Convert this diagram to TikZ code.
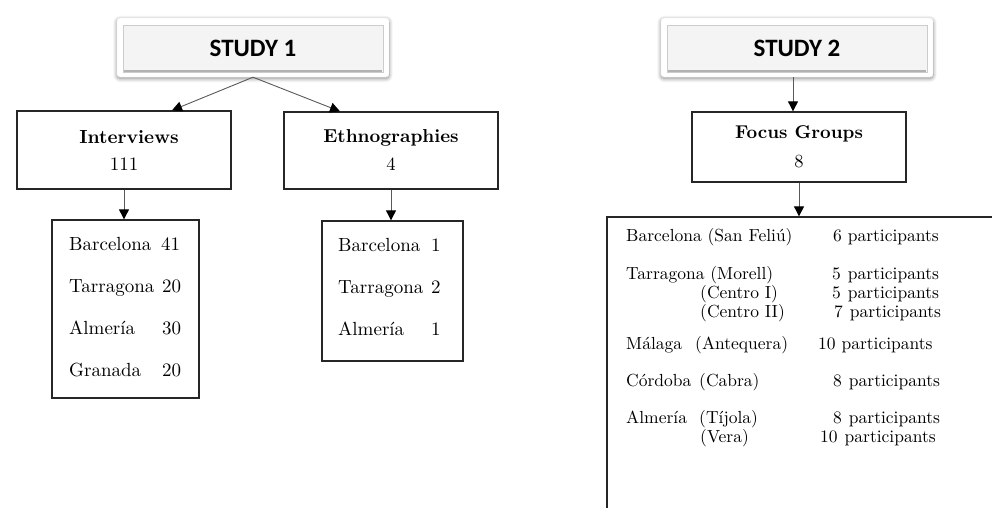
\documentclass[tikz,border=0pt]{standalone}
\usepackage{fontspec}
\setmainfont{lmroman10-regular.otf}[BoldFont=lmroman10-bold.otf]
\newfontfamily\studyfont{Carlito}
\usetikzlibrary{arrows.meta,shadows.blur,calc}
\begin{document}
\begin{tikzpicture}[x=1pt,y=-1pt,
  box/.style={draw=black!85,line width=1.3pt,fill=white,inner sep=0pt},
  arr/.style={draw=black!65,line width=0.9pt,-{Triangle[length=10pt,width=10pt,color=black]}},
  outerbox/.style={fill=white,draw=gray!15,line width=0.4pt,rounded corners=3pt,
    blur shadow={shadow blur steps=10,shadow xshift=0pt,shadow yshift=-1.5pt,shadow opacity=45,shadow blur radius=4pt},
    minimum width=272pt,minimum height=59pt,inner sep=0pt},
  innerbox/.style={fill=gray!9,draw=gray!40,line width=0.8pt,minimum width=260pt,minimum height=47pt,
    inner sep=0pt,font=\studyfont\bfseries\fontsize{25}{28}\selectfont},
  head/.style={align=center,font=\fontsize{19}{27}\selectfont},
  city/.style={anchor=base west,inner sep=0pt,font=\fontsize{19}{20}\selectfont},
  fg/.style={anchor=base west,inner sep=0pt,font=\fontsize{17.5}{20}\selectfont}
]
\useasboundingbox (0,0) rectangle (992,507);
\clip (0,0) rectangle (992,507);

% STUDY 1
\node[outerbox] (s1o) at (253,47.5) {};
\node[innerbox] (s1) at (253,48.5) {STUDY 1};
\draw[gray!60,line width=2pt] ($(s1.south west)+(1,-1)$) -- ($(s1.south east)+(-1,-1)$);

% STUDY 2
\node[outerbox] (s2o) at (797,47.5) {};
\node[innerbox] (s2) at (797,48.5) {STUDY 2};
\draw[gray!60,line width=2pt] ($(s2.south west)+(1,-1)$) -- ($(s2.south east)+(-1,-1)$);

% level 2 boxes
\node[box,minimum width=214pt,minimum height=78pt,head] (int) at (124,150)
  {\hspace*{10pt}\textbf{Interviews}\\111};
\node[box,minimum width=214pt,minimum height=77pt,head,font=\fontsize{18.7}{27}\selectfont] (eth) at (391,150.5)
  {\textbf{Ethnographies}\\[1pt]4};
\node[box,minimum width=214pt,minimum height=70pt,head,font=\fontsize{18.5}{27}\selectfont] (foc) at (799,147)
  {\textbf{Focus Groups}\\[2pt]8};

% city boxes
\node[box,minimum width=147pt,minimum height=178pt] (c1) at (125.5,309) {};
\node[box,minimum width=141pt,minimum height=140pt] (c2) at (392.5,291) {};
\node[box,minimum width=403pt,minimum height=303pt] (c3) at (808.5,368.5) {};

% arrows
\draw[arr] (s1o.south) -- ([xshift=48pt]int.north);
\draw[arr] (s1o.south) -- ([xshift=-51pt]eth.north);
\draw[arr] (int.south) -- (int.south |- c1.north);
\draw[arr] (eth.south) -- (eth.south |- c2.north);
\draw[arr] ([xshift=-4pt]s2o.south) -- ([xshift=-4pt]s2o.south |- foc.north);
\draw[arr] (foc.south) -- (foc.south |- c3.north);

% city list 1
\node[city] (a1) at (69,250) {Barcelona};  \node[city] (a1n) at (161,250) {41};
\node[city] (a2) at (69,292) {Tarragona};  \node[city] (a2n) at (162,292) {20};
\node[city] (a3) at (69,334) {Almería};    \node[city] (a3n) at (162,334) {30};
\node[city] (a4) at (69,376) {Granada};    \node[city] (a4n) at (162,376) {20};

% city list 2
\node[city] (b1) at (338,251) {Barcelona}; \node[city] (b1n) at (431,251) {1};
\node[city] (b2) at (338,293) {Tarragona}; \node[city] (b2n) at (431,293) {2};
\node[city] (b3) at (338,335) {Almería};   \node[city] (b3n) at (431,335) {1};

% focus group list
\node[fg] (f1) at (626,241) {Barcelona (San Feliú)};
\node[fg] (f1n) at (833,241) {6 participants};
\node[fg] (f2) at (626,279) {Tarragona (Morell)};
\node[fg] (f2n) at (832,279) {5\hspace{0.4em}participants};
\node[fg] (f3) at (700,298) {(Centro I)};
\node[fg] (f3n) at (832,298) {5\hspace{0.4em}participants};
\node[fg] (f4) at (700,317) {(Centro II)};
\node[fg] (f4n) at (834,317) {7\hspace{0.4em}participants};
\node[fg] (f5) at (626,349) {Málaga};
\node[fg] (f5b) at (695,349) {(Antequera)};
\node[fg] (f5n) at (818,349) {10 participants};
\node[fg] (f6) at (626,386) {Córdoba};
\node[fg] (f6b) at (699,386) {(Cabra)};
\node[fg] (f6n) at (833,386) {8\hspace{0.4em}participants};
\node[fg] (f7) at (626,423) {Almería};
\node[fg] (f7b) at (699,423) {(Tíjola)};
\node[fg] (f7n) at (833,423) {8\hspace{0.4em}participants};
\node[fg] (f8) at (700,442) {(Vera)};
\node[fg] (f8n) at (820,442) {10\hspace{0.4em}participants};
\end{tikzpicture}
\end{document}
